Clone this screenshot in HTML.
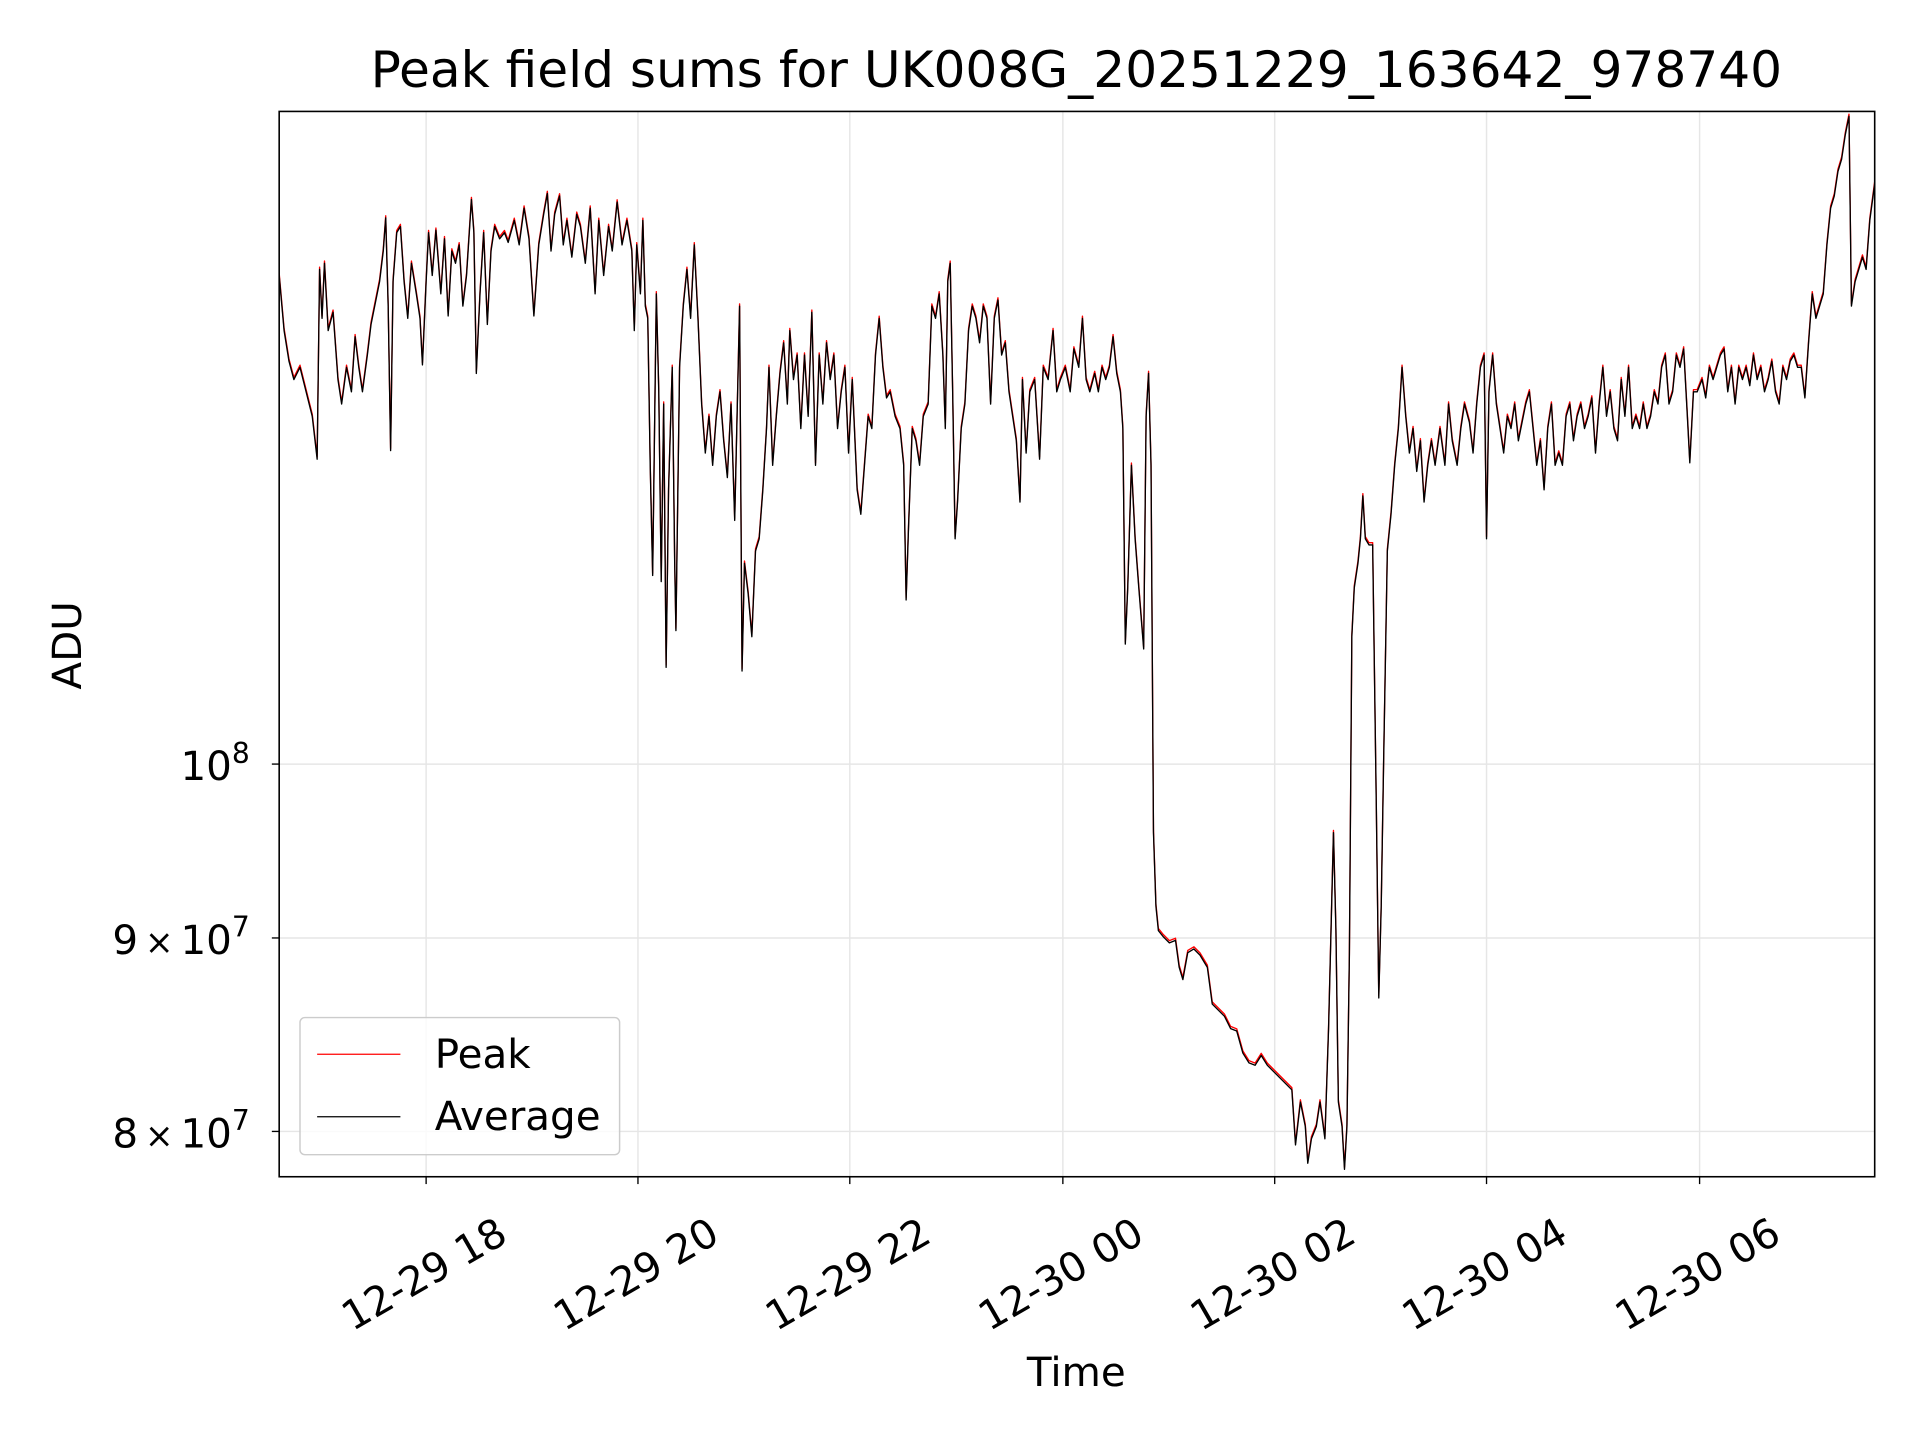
<!DOCTYPE html>
<html><head><meta charset="utf-8"><style>html,body{margin:0;padding:0;background:#fff}svg{display:block}</style></head>
<body>
<svg width="1920" height="1440" viewBox="0 0 1568 1176" xmlns="http://www.w3.org/2000/svg" font-family="'DejaVu Sans','Liberation Sans',sans-serif">
<defs>
<polyline id="pl" points="228,225 232,270 236,295 240,310 245,300 250,320 255,340 259,375 261,220 263,260 265,215 268,270 272,255 276,310 279,330 283,300 287,320 290,275 293,300 296,320 300,290 303,265 306,250 310,230 313,205 315,178 317,250 319,368 321,230 324,190 327,185 330,230 333,260 336,215 340,240 343,260 345,298 348,230 350,190 353,225 356,188 360,240 363,195 366,258 369,205 372,215 375,200 378,250 381,225 385,163 387,190 389,305 392,240 395,190 398,265 401,205 404,185 408,195 412,190 415,198 420,180 424,200 428,170 432,195 436,258 440,200 444,175 447,158 450,205 453,175 457,160 460,200 463,180 467,210 471,175 474,185 478,215 482,170 486,240 489,180 493,225 497,185 500,205 504,165 508,200 512,180 516,205 518,270 520,200 523,240 525,180 527,250 529,260 531,380 533,470 536,240 538,320 540,475 542,330 544,545 546,400 549,300 551,460 552,515 555,300 558,250 561,220 564,260 567,200 570,260 573,330 576,370 579,340 582,380 585,340 588,320 591,360 594,390 597,330 600,425 604,250 606,548 608,460 611,485 614,520 617,450 620,440 623,400 626,350 628,300 631,380 634,340 637,305 640,280 643,330 645,270 648,310 651,290 654,350 657,290 660,340 663,255 666,380 669,290 672,330 675,280 678,310 681,290 684,350 687,320 690,300 693,370 696,310 700,400 703,420 706,380 709,340 712,350 715,290 718,260 721,300 724,325 727,320 731,340 735,350 738,380 740,490 742,430 745,350 748,360 751,380 754,340 758,330 761,250 764,260 767,240 770,290 772,350 774,230 776,215 778,320 780,440 782,410 785,350 788,330 791,270 794,250 797,260 800,280 803,250 806,260 809,330 812,260 815,245 818,290 821,280 824,320 827,340 830,360 833,410 835,310 838,370 841,320 845,310 849,375 852,300 856,310 860,270 863,320 866,310 870,300 874,320 877,285 881,300 884,260 887,310 890,320 894,305 897,320 900,300 903,310 906,300 909,275 912,305 915,320 917,350 919,526 921,480 924,380 927,440 930,480 934,530 936,340 938,305 940,380 942,680 944,740 946,760 950,765 955,770 960,768 963,790 966,800 970,778 975,775 980,780 986,790 990,820 995,825 1000,830 1005,840 1010,842 1015,860 1020,868 1025,870 1030,862 1035,870 1040,875 1045,880 1050,885 1055,890 1058,935 1062,900 1066,920 1068,950 1071,930 1075,920 1078,900 1082,930 1085,840 1087,760 1089,680 1091,760 1093,900 1096,920 1098,955 1100,920 1102,780 1104,520 1106,480 1109,460 1111,440 1113,405 1115,440 1118,445 1121,445 1124,660 1126,815 1128,740 1130,620 1133,450 1136,420 1139,380 1142,350 1145,300 1148,340 1151,370 1154,350 1157,385 1160,360 1163,410 1166,380 1169,360 1172,380 1176,350 1180,380 1183,330 1186,360 1190,380 1193,350 1196,330 1200,345 1203,370 1206,330 1209,300 1212,290 1214,440 1216,320 1219,290 1222,330 1225,350 1228,370 1231,340 1234,350 1237,330 1240,360 1243,345 1246,330 1249,320 1252,350 1255,380 1258,360 1261,400 1264,350 1267,330 1270,380 1273,370 1276,380 1279,340 1282,330 1285,360 1288,340 1291,330 1294,350 1297,340 1300,325 1303,370 1306,330 1309,300 1312,340 1315,320 1318,350 1321,360 1324,310 1327,340 1330,300 1333,350 1336,340 1339,350 1342,330 1345,350 1348,340 1351,320 1354,330 1357,300 1360,290 1363,330 1366,320 1369,290 1372,300 1375,285 1378,340 1380,378 1383,320 1386,320 1390,310 1393,325 1396,300 1399,310 1402,300 1405,290 1408,285 1411,320 1414,300 1417,330 1420,300 1423,310 1426,300 1429,315 1432,290 1435,310 1438,300 1441,320 1444,310 1447,295 1450,320 1453,330 1456,300 1459,310 1462,295 1465,290 1468,300 1471,300 1474,325 1477,280 1480,240 1483,260 1486,250 1489,240 1492,200 1495,170 1498,160 1501,140 1504,130 1507,110 1510,95 1512,250 1515,230 1518,220 1521,210 1524,220 1527,180 1531,150"/>
</defs>
<rect width="1568" height="1176" fill="#fff"/>
<g stroke="#e6e6e6" stroke-width="1.2">
<line x1="348" y1="91" x2="348" y2="961"/><line x1="521" y1="91" x2="521" y2="961"/><line x1="694" y1="91" x2="694" y2="961"/><line x1="868" y1="91" x2="868" y2="961"/><line x1="1041" y1="91" x2="1041" y2="961"/><line x1="1214" y1="91" x2="1214" y2="961"/><line x1="1388" y1="91" x2="1388" y2="961"/>
<line x1="228" y1="624" x2="1531" y2="624"/><line x1="228" y1="766" x2="1531" y2="766"/><line x1="228" y1="924" x2="1531" y2="924"/>
</g>
<g fill="none" stroke-width="1.1" stroke-linejoin="round">
<use href="#pl" stroke="#ff0000" transform="translate(0,-1.8)"/>
<use href="#pl" stroke="#000000"/>
</g>
<rect x="228" y="91" width="1303" height="870" fill="none" stroke="#000" stroke-width="1.3"/>
<g stroke="#000" stroke-width="1.1">
<line x1="348" y1="961" x2="348" y2="967"/><line x1="521" y1="961" x2="521" y2="967"/><line x1="694" y1="961" x2="694" y2="967"/><line x1="868" y1="961" x2="868" y2="967"/><line x1="1041" y1="961" x2="1041" y2="967"/><line x1="1214" y1="961" x2="1214" y2="967"/><line x1="1388" y1="961" x2="1388" y2="967"/>
<line x1="222" y1="624" x2="228" y2="624"/><line x1="222" y1="766" x2="228" y2="766"/><line x1="222" y1="924" x2="228" y2="924"/>
</g>
<g font-size="33" fill="#000" text-anchor="middle">
<text transform="translate(346,1040) rotate(-30)" dy="12">12-29 18</text>
<text transform="translate(519,1040) rotate(-30)" dy="12">12-29 20</text>
<text transform="translate(692,1040) rotate(-30)" dy="12">12-29 22</text>
<text transform="translate(866,1040) rotate(-30)" dy="12">12-30 00</text>
<text transform="translate(1039,1040) rotate(-30)" dy="12">12-30 02</text>
<text transform="translate(1212,1040) rotate(-30)" dy="12">12-30 04</text>
<text transform="translate(1386,1040) rotate(-30)" dy="12">12-30 06</text>
</g>
<g font-size="33" fill="#000" text-anchor="end">
<text x="204" y="637">10<tspan dy="-14" font-size="23">8</tspan></text>
<text x="204" y="779">9<tspan font-size="28">&#8201;×&#8201;</tspan>10<tspan dy="-14" font-size="23">7</tspan></text>
<text x="204" y="937">8<tspan font-size="28">&#8201;×&#8201;</tspan>10<tspan dy="-14" font-size="23">7</tspan></text>
</g>
<text x="879" y="1132" font-size="33" text-anchor="middle">Time</text>
<text transform="translate(66,527) rotate(-90)" font-size="33" text-anchor="middle">ADU</text>
<text x="879" y="71" font-size="41" text-anchor="middle">Peak field sums for UK008G_20251229_163642_978740</text>
<rect x="245" y="831" width="261" height="112" rx="4" fill="#fff" fill-opacity="0.8" stroke="#cccccc" stroke-width="1.2"/>
<line x1="259" y1="861" x2="327" y2="861" stroke="#f00" stroke-width="1"/>
<line x1="259" y1="912" x2="327" y2="912" stroke="#000" stroke-width="1"/>
<text x="355" y="872" font-size="33">Peak</text>
<text x="355" y="923" font-size="33">Average</text>
</svg>
</body></html>
